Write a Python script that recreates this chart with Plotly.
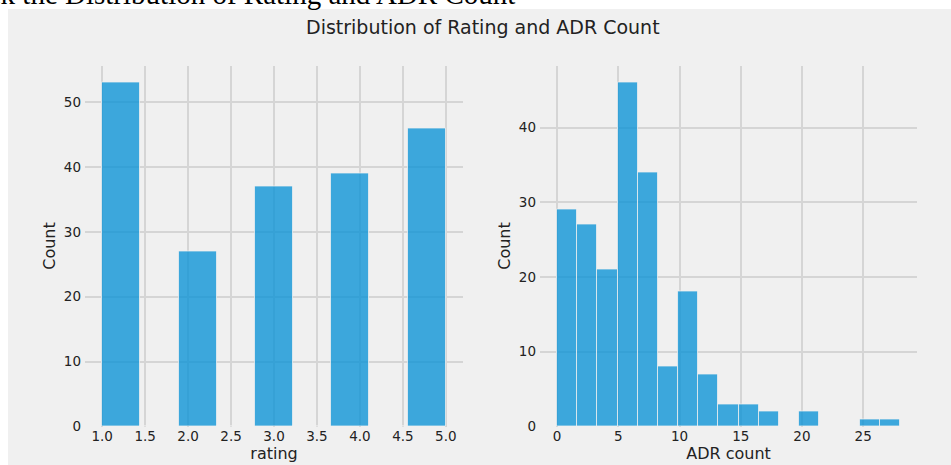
import plotly.graph_objects as go

# ---- data ----
rating_min, rating_max, rating_nbins = 1.0, 5.0, 9
rating_counts = [53, 0, 27, 0, 37, 0, 39, 0, 46]

adr_min, adr_max, adr_nbins = 0.0, 28.0, 17
adr_counts = [29, 27, 21, 46, 34, 8, 18, 7, 3, 3, 2, 0, 2, 0, 0, 1, 1]

rating_ticks = [1.0, 1.5, 2.0, 2.5, 3.0, 3.5, 4.0, 4.5, 5.0]
rating_ytick = [0, 10, 20, 30, 40, 50]
adr_ticks = [0, 5, 10, 15, 20, 25]
adr_ytick = [0, 10, 20, 30, 40]

title = "Distribution of Rating and ADR Count"
outer_text = "Check the Distribution of Rating and ADR Count"

W, H = 951, 465


def bins(lo, hi, n):
    w = (hi - lo) / n
    centers = [lo + w * (i + 0.5) for i in range(n)]
    return centers, w


def px_x(p):
    return p / W


def px_y(p):
    return (H - p) / H


r_centers, r_w = bins(rating_min, rating_max, rating_nbins)
a_centers, a_w = bins(adr_min, adr_max, adr_nbins)

bar_color = "rgba(0,143,213,0.75)"
edge = dict(color="rgba(240,240,240,0.75)", width=1)

fig = go.Figure()
fig.add_trace(go.Bar(x=r_centers, y=rating_counts, width=r_w,
                     marker=dict(color=bar_color, line=edge),
                     xaxis="x", yaxis="y", showlegend=False))
fig.add_trace(go.Bar(x=a_centers, y=adr_counts, width=a_w,
                     marker=dict(color=bar_color, line=edge),
                     xaxis="x2", yaxis="y2", showlegend=False))

grid = "#d5d5d5"
tickfont = dict(family="DejaVu Sans", size=13.5, color="#222222")
labfont = dict(family="DejaVu Sans", size=16, color="#222222")

r_span = rating_max - rating_min
a_span = adr_max - adr_min

common_x = dict(showgrid=True, gridcolor=grid, gridwidth=1.5, zeroline=False,
                showline=False, ticks="", tickfont=tickfont, fixedrange=True,
                automargin=False)
common_y = dict(showgrid=True, gridcolor=grid, gridwidth=1.5, zeroline=False,
                showline=False, ticks="", tickfont=tickfont, fixedrange=True,
                automargin=False, ticklabelstandoff=3)

ydom = [px_y(426.5), px_y(65.5)]

fig.update_layout(
    width=W, height=H,
    margin=dict(l=0, r=0, t=0, b=0),
    paper_bgcolor="white",
    plot_bgcolor="#f0f0f0",
    bargap=0,
    xaxis=dict(common_x, domain=[px_x(85), px_x(463)],
               range=[rating_min - 0.05 * r_span, rating_max + 0.05 * r_span],
               tickvals=rating_ticks, ticktext=[f"{v:.1f}" for v in rating_ticks],
               title=dict(text="rating", font=labfont, standoff=1),
               anchor="y"),
    yaxis=dict(common_y, domain=ydom,
               range=[0, max(rating_counts) * 1.05],
               tickvals=rating_ytick,
               title=dict(text="Count", font=labfont, standoff=4),
               anchor="x"),
    xaxis2=dict(common_x, domain=[px_x(540), px_x(917)],
                range=[adr_min - 0.05 * a_span, adr_max + 0.05 * a_span],
                tickvals=adr_ticks,
                title=dict(text="ADR count", font=labfont, standoff=1),
                anchor="y2"),
    yaxis2=dict(common_y, domain=ydom,
                range=[0, max(adr_counts) * 1.05],
                tickvals=adr_ytick,
                title=dict(text="Count", font=labfont, standoff=4),
                anchor="x2"),
    shapes=[dict(type="rect", xref="paper", yref="paper", layer="below",
                 x0=px_x(8), x1=1.0, y0=0.0, y1=px_y(9),
                 fillcolor="#f0f0f0", line=dict(width=0))],
    annotations=[
        dict(text=title, xref="paper", yref="paper", x=px_x(483), y=px_y(26.5),
             xanchor="center", yanchor="middle", showarrow=False,
             font=dict(family="DejaVu Sans", size=19, color="#222222")),
        dict(text=outer_text, xref="paper", yref="paper", x=px_x(517), y=px_y(-6),
             xanchor="right", yanchor="middle", showarrow=False,
             font=dict(family="Liberation Serif", size=29, color="black")),
    ],
)

fig.write_html("out.html",
               config={"displayModeBar": False},
               post_script="document.body.style.margin='0';")
